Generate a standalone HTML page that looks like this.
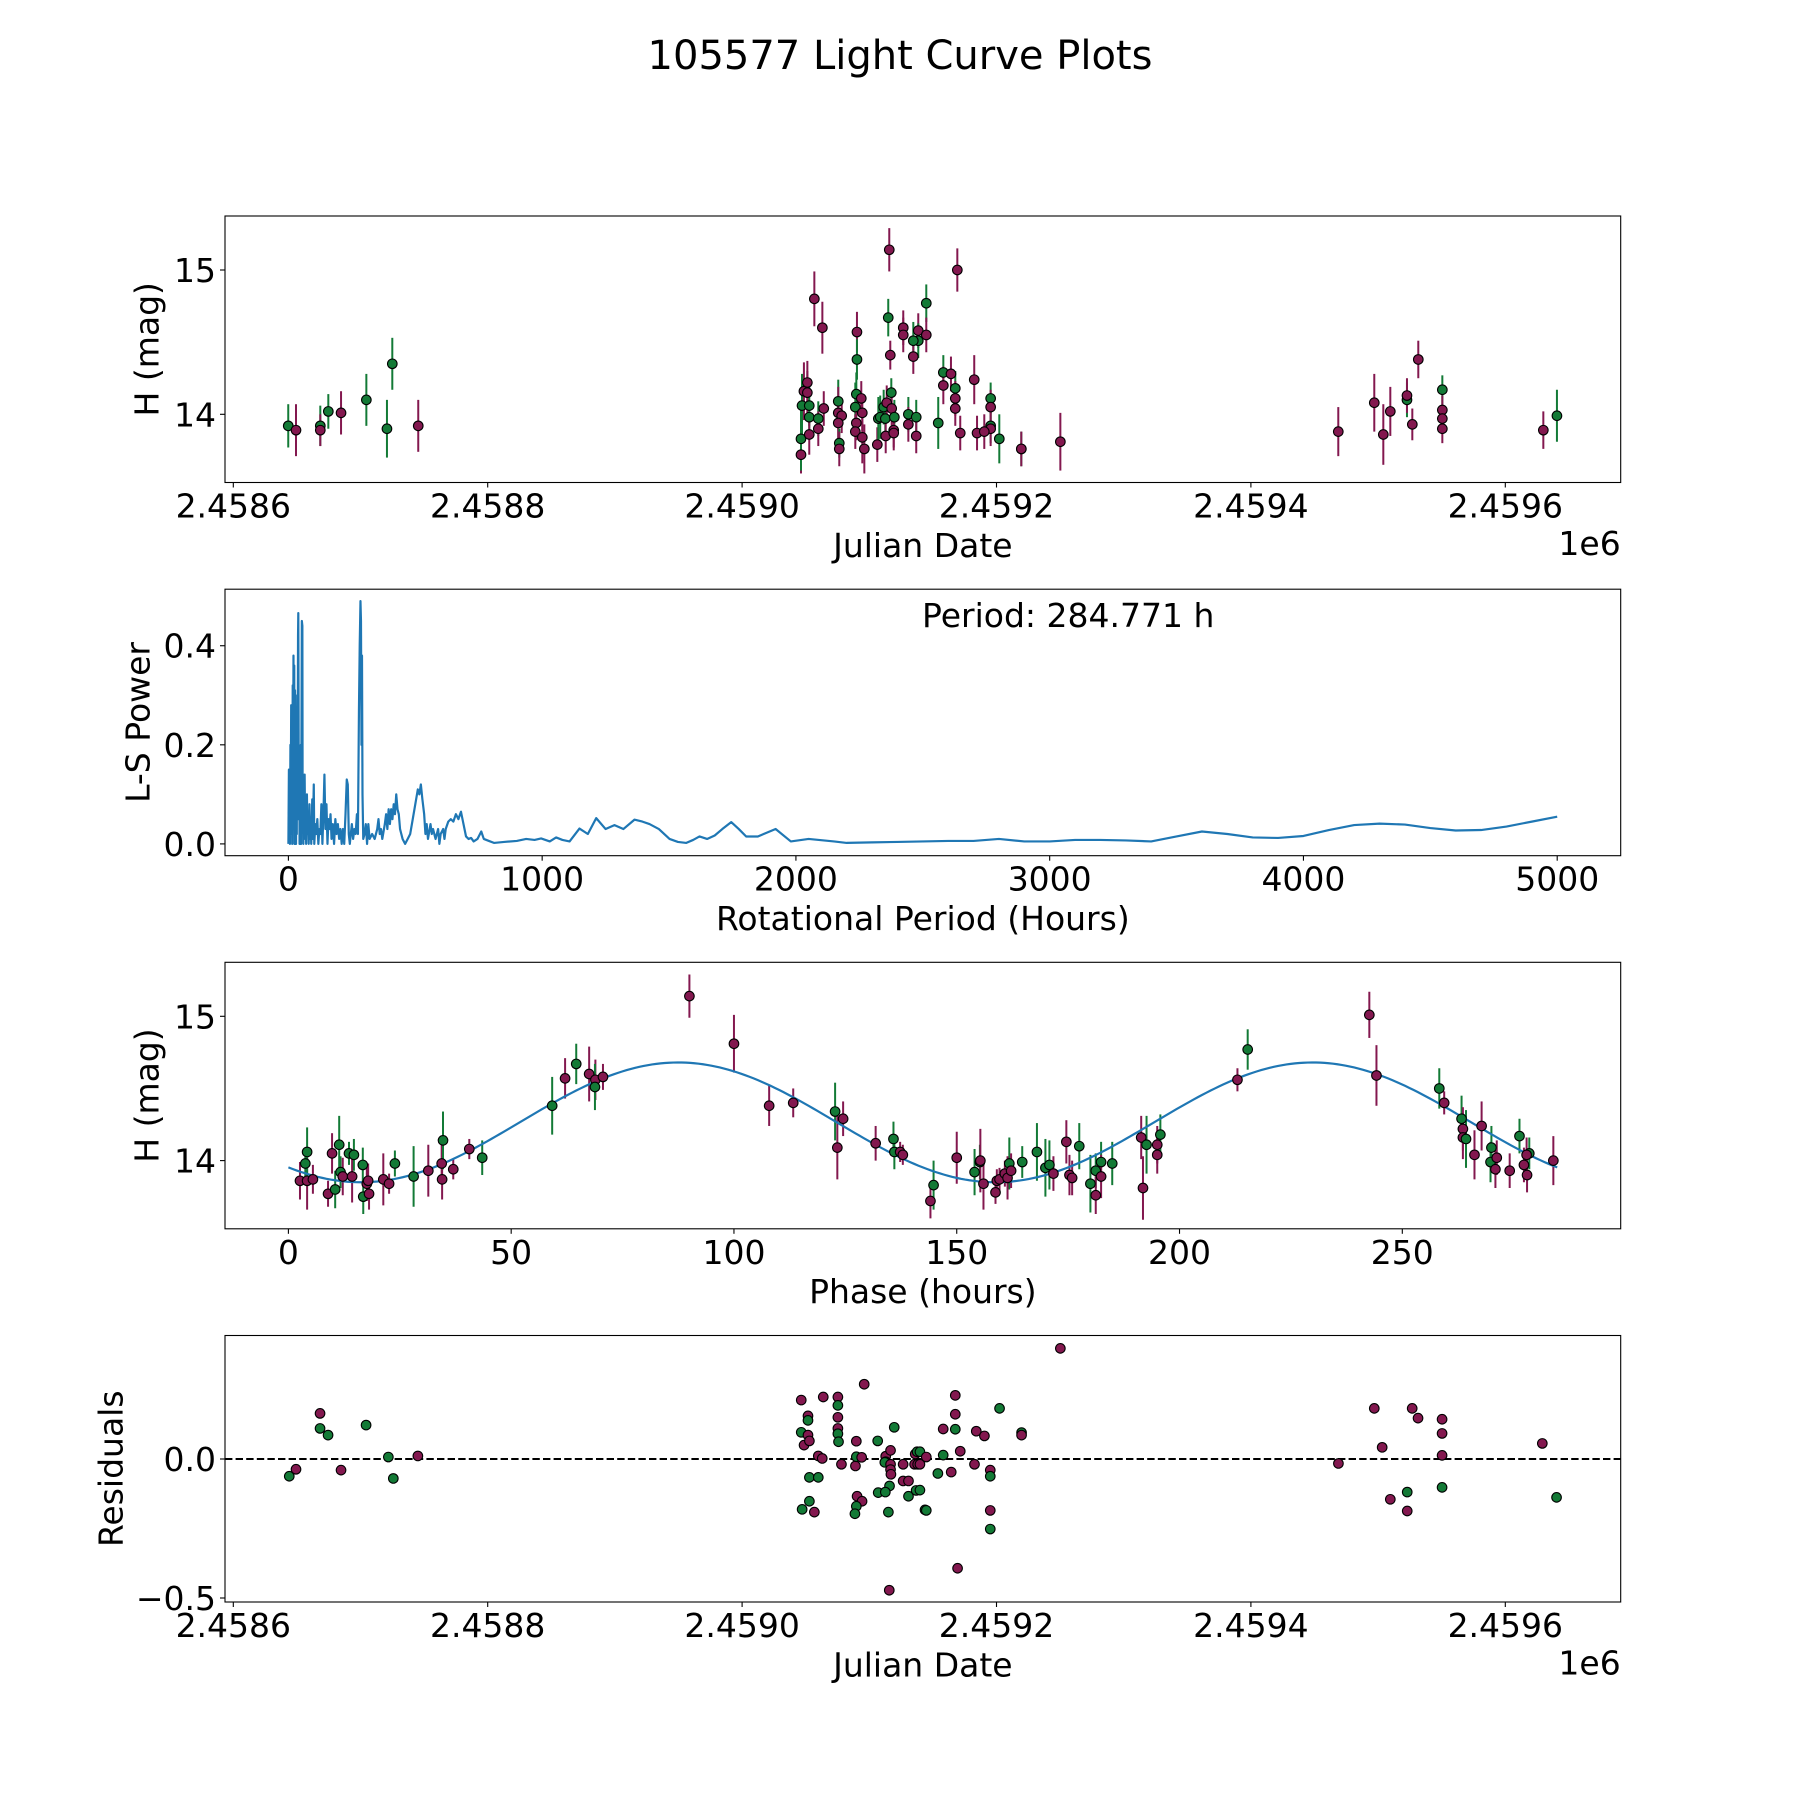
<!DOCTYPE html>
<html><head><meta charset="utf-8"><style>
html,body{margin:0;padding:0;background:#fff;}
svg{position:absolute;left:0;top:0;}
text{font-family:"DejaVu Sans","Liberation Sans",sans-serif;fill:#000;}
</style></head><body>
<svg id="fig" width="1800" height="1800" viewBox="0 0 1800 1800" xmlns="http://www.w3.org/2000/svg">
<rect x="0" y="0" width="1800" height="1800" fill="#fff"/>
<text x="900" y="69" font-size="40" text-anchor="middle">105577 Light Curve Plots</text>
</svg>
<script>
// ---------- Panel 1: light curve ----------
const lcDays = [43.2,49.3,68.4,68.4,74.7,84.7,104.6,120.8,125.0,145.4,
456.8,463.1,515.7,569.2,514.9,544.8,490.3,526.7,526.7,538.5,538.5,534.6,544.8,534.6,516.5,490.3,558.2,564.2,558.2,567.6,567.6,567.6,582.5,595.4,595.4,595.4,595.4,602.2,571.5,584.7,590.4,619.5,619.5,650.2,554.2,530.7,530.7,536.9,536.9,
446.3,446.3,447.1,448.6,451.3,451.3,452.8,452.8,452.8,459.9,459.9,464.2,475.6,475.6,478.3,475.6,476.4,476.4,489.8,493.7,489.0,494.5,489.8,489.0,494.5,496.1,506.3,507.1,508.6,512.6,511.3,513.7,517.3,517.6,519.7,512.9,519.2,519.2,
868.7,897.0,904.1,909.6,922.7,922.7,926.9,931.6,950.5,950.5,950.5,950.5,1029.9,1040.6];
const lcMag = [13.92,13.89,13.92,13.89,14.02,14.01,14.10,13.90,14.35,13.92,
14.80,14.60,15.14,15.00,14.67,14.77,14.57,14.60,14.55,14.58,14.51,14.51,14.55,14.40,14.41,14.38,14.29,14.28,14.20,14.18,14.11,14.04,14.24,14.11,14.05,13.92,13.90,13.83,13.87,13.87,13.88,13.76,13.76,13.81,13.94,14.00,13.93,13.98,13.85,
13.72,13.83,14.06,14.16,14.22,14.15,14.06,13.98,13.86,13.97,13.90,14.04,14.09,14.01,13.99,13.94,13.80,13.76,14.14,14.11,14.05,14.01,13.94,13.88,13.84,13.76,13.79,13.97,13.98,13.97,14.05,14.08,14.15,14.04,13.98,13.85,13.89,13.87,
13.88,14.08,13.86,14.02,14.10,14.13,13.93,14.38,14.17,14.03,13.97,13.90,13.89,13.99];
const lcErr = [0.15,0.18,0.14,0.11,0.12,0.15,0.18,0.20,0.18,0.18,
0.19,0.18,0.15,0.15,0.13,0.13,0.14,0.12,0.12,0.12,0.12,0.13,0.12,0.12,0.10,0.14,0.12,0.12,0.13,0.12,0.12,0.12,0.17,0.11,0.12,0.12,0.12,0.17,0.12,0.12,0.12,0.12,0.12,0.20,0.18,0.12,0.12,0.12,0.12,
0.13,0.22,0.22,0.20,0.15,0.15,0.14,0.12,0.14,0.12,0.12,0.12,0.15,0.18,0.12,0.12,0.10,0.12,0.15,0.12,0.17,0.13,0.12,0.12,0.18,0.17,0.12,0.15,0.15,0.12,0.12,0.12,0.10,0.12,0.12,0.12,0.12,0.12,
0.17,0.20,0.21,0.17,0.12,0.12,0.11,0.13,0.10,0.10,0.10,0.10,0.13,0.18];
const lcFilt = ["g","m","g","m","g","m","g","g","g","m",
"m","m","m","m","g","g","m","m","m","m","g","g","m","m","m","g","g","m","m","g","m","m","m","g","m","g","m","g","m","m","m","g","m","m","g","g","m","g","m",
"m","g","g","m","m","m","g","g","m","g","m","m","g","m","m","m","g","m","g","m","g","m","m","m","m","m","m","g","g","g","g","m","g","m","g","m","m","m",
"m","m","m","m","g","m","m","m","g","m","m","m","m","g"];
const jdTicks = [2458600,2458800,2459000,2459200,2459400,2459600];
const jdTickLabels = ["2.4586","2.4588","2.4590","2.4592","2.4594","2.4596"];
const magTicks = [14,15];
const magTickLabels = ["14","15"];

// ---------- Panel 2: periodogram ----------
const lsPeriod = [0,2,3,5,6,8,9,11,12,14,15,17,18,20,21,23,24,26,27,29,30,32,33,35,36,38,39,40,41,43,44,46,47,49,50,52,53,55,56,58,59,61,62,64,66,68,70,73,75,78,80,83,85,88,90,94,96,100,102,106,110,114,118,122,126,130,134,138,142,146,150,154,158,162,166,170,175,180,185,190,195,200,205,210,215,220,225,230,234,238,242,246,250,255,260,265,270,274,278,281,284,286,288,290,292,295,300,305,310,315,320,330,340,350,355,360,365,370,380,385,390,395,400,405,410,415,420,425,430,435,440,445,450,460,470,480,490,500,510,516,522,528,535,540,545,550,560,565,570,580,590,595,600,610,615,620,630,640,650,660,670,680,690,700,710,720,730,745,760,770,790,810,850,900,937,970,996,1030,1055,1080,1108,1147,1180,1213,1250,1285,1320,1364,1395,1423,1460,1502,1535,1568,1595,1620,1650,1680,1710,1745,1775,1804,1850,1920,1980,2050,2150,2200,2300,2400,2500,2600,2700,2800,2900,3000,3100,3200,3300,3400,3500,3600,3700,3800,3900,4000,4100,4200,4300,4400,4500,4600,4700,4800,4900,5000];
const lsPower = [0.0,0.15,0.01,0.12,0.0,0.2,0.02,0.28,0.05,0.25,0.0,0.32,0.05,0.38,0.1,0.36,0.0,0.31,0.05,0.2,0.0,0.15,0.02,0.3,0.05,0.42,0.466,0.3,0.05,0.15,0.0,0.1,0.02,0.2,0.0,0.3,0.45,0.44,0.1,0.14,0.0,0.08,0.01,0.14,0.02,0.08,0.0,0.1,0.02,0.06,0.0,0.08,0.01,0.05,0.0,0.09,0.01,0.12,0.0,0.04,0.02,0.05,0.0,0.03,0.02,0.08,0.0,0.06,0.14,0.03,0.08,0.0,0.05,0.03,0.06,0.01,0.04,0.0,0.05,0.02,0.04,0.01,0.03,0.0,0.03,0.0,0.06,0.13,0.12,0.02,0.0,0.02,0.04,0.01,0.03,0.02,0.06,0.02,0.27,0.4,0.49,0.45,0.2,0.38,0.1,0.01,0.02,0.04,0.0,0.04,0.01,0.02,0.01,0.03,0.05,0.02,0.03,0.01,0.04,0.06,0.03,0.07,0.04,0.07,0.05,0.08,0.06,0.1,0.07,0.06,0.03,0.02,0.01,0.0,0.01,0.02,0.05,0.08,0.11,0.1,0.12,0.09,0.06,0.02,0.04,0.01,0.04,0.02,0.03,0.01,0.03,0.0,0.02,0.03,0.01,0.03,0.045,0.05,0.045,0.06,0.05,0.065,0.04,0.015,0.01,0.012,0.005,0.01,0.025,0.01,0.006,0.002,0.004,0.006,0.01,0.008,0.011,0.005,0.013,0.008,0.005,0.031,0.02,0.052,0.03,0.038,0.03,0.049,0.045,0.04,0.03,0.01,0.004,0.002,0.008,0.015,0.01,0.017,0.03,0.044,0.03,0.015,0.015,0.03,0.005,0.01,0.005,0.002,0.003,0.004,0.005,0.006,0.006,0.01,0.005,0.005,0.008,0.008,0.007,0.005,0.015,0.025,0.02,0.013,0.012,0.016,0.028,0.038,0.041,0.039,0.032,0.027,0.028,0.035,0.045,0.055];
const periodTicks = [0,1000,2000,3000,4000,5000];
const periodTickLabels = ["0","1000","2000","3000","4000","5000"];
const powerTicks = [0.0,0.2,0.4];
const powerTickLabels = ["0.0","0.2","0.4"];
const bestPeriod = [284.771];

// ---------- Panel 3: phased ----------
const phase = [2.6,4.2,5.5,3.8,4.2,8.9,10.5,9.8,11.4,11.7,12.2,14.3,13.6,14.7,16.7,16.8,17.6,17.9,18.1,21.3,22.6,23.9,28.1,31.4,34.4,34.5,34.7,37.0,40.6,43.5,59.2,62.1,64.6,67.5,68.9,68.8,70.6,90.0,100.0,107.9,113.3,122.7,124.5,123.2,131.8,135.8,136.0,137.3,137.9,
144.1,144.8,150.0,154.0,155.2,155.3,156.0,158.7,159.0,159.6,160.8,161.8,161.4,162.2,164.7,168.0,169.9,170.8,171.7,174.6,175.3,175.9,177.5,180.0,181.2,181.2,182.4,182.4,184.9,191.4,191.8,192.6,195.0,195.0,195.7,213.0,215.3,242.6,244.2,258.3,259.4,263.3,263.6,263.6,264.3,267.8,266.2,270.0,269.8,271.2,270.9,274.1,276.3,278.5,277.9,277.3,278.0,283.9];
const phaseMag = [13.86,13.86,13.87,13.98,14.06,13.77,13.80,14.05,14.11,13.92,13.89,13.89,14.05,14.04,13.97,13.75,13.84,13.86,13.77,13.87,13.84,13.98,13.89,13.93,13.98,13.87,14.14,13.94,14.08,14.02,14.38,14.57,14.67,14.60,14.56,14.51,14.58,15.14,14.81,14.38,14.40,14.34,14.29,14.09,14.12,14.15,14.06,14.06,14.04,
13.72,13.83,14.02,13.92,13.99,14.00,13.84,13.78,13.86,13.87,13.91,13.98,13.88,13.93,13.99,14.06,13.95,13.97,13.91,14.13,13.90,13.88,14.10,13.84,13.93,13.76,13.99,13.89,13.98,14.16,13.81,14.11,14.11,14.04,14.18,14.56,14.77,15.01,14.59,14.50,14.40,14.29,14.22,14.16,14.15,14.24,14.04,14.09,13.99,14.02,13.94,13.93,14.17,14.05,14.04,13.97,13.90,14.00];
const phaseErr = [0.13,0.2,0.1,0.11,0.17,0.09,0.13,0.14,0.2,0.11,0.13,0.18,0.08,0.11,0.12,0.12,0.12,0.12,0.11,0.18,0.07,0.09,0.21,0.18,0.14,0.14,0.2,0.07,0.07,0.12,0.2,0.14,0.14,0.19,0.14,0.16,0.09,0.15,0.2,0.14,0.1,0.2,0.12,0.22,0.12,0.12,0.12,0.07,0.07,
0.12,0.17,0.18,0.16,0.12,0.22,0.18,0.08,0.08,0.08,0.09,0.18,0.15,0.12,0.11,0.2,0.2,0.17,0.12,0.15,0.14,0.12,0.16,0.2,0.12,0.13,0.14,0.15,0.15,0.15,0.22,0.2,0.13,0.13,0.14,0.08,0.14,0.16,0.21,0.14,0.08,0.16,0.15,0.15,0.2,0.17,0.17,0.15,0.14,0.12,0.13,0.12,0.12,0.11,0.12,0.12,0.12,0.17];
const phaseFilt = ["m","m","m","g","g","m","g","m","g","g","m","m","g","g","g","g","m","m","m","m","m","g","g","m","m","m","g","m","m","g","g","m","g","m","m","g","m","m","m","m","m","g","m","m","m","g","g","m","m",
"m","g","m","g","g","m","m","m","m","m","m","g","m","m","g","g","g","g","m","m","m","m","g","g","g","m","g","m","g","m","m","g","m","m","g","m","g","m","m","g","m","g","m","m","g","m","m","g","g","m","m","m","g","g","m","m","m","m"];
const phaseTicks = [0,50,100,150,200,250];
const phaseTickLabels = ["0","50","100","150","200","250"];
const fitMean = [14.265];
const fitAmp = [0.415];
const fitPhase0 = [51.9];

// ---------- Panel 4: residuals ----------
const resDays = [44.0,49.3,68.2,68.2,74.5,84.7,104.4,121.9,125.8,145.1,
446.5,446.5,448.7,451.8,451.8,451.8,452.9,452.9,452.9,447.2,456.8,459.9,459.9,463.0,463.8,475.3,475.3,475.3,475.3,475.3,475.8,478.1,489.1,489.8,489.8,494.0,490.4,494.3,489.8,488.7,496.0,506.6,512.9,512.9,512.2,516.7,516.7,516.7,517.0,515.9,507.0,512.6,515.0,515.7,519.6,526.6,526.6,530.8,530.8,536.8,536.1,537.6,535.6,538.0,543.8,
539.8,539.8,539.8,544.8,544.8,553.9,558.1,558.1,564.4,567.6,567.6,567.6,571.5,569.4,582.7,584.1,590.5,595.1,595.1,595.1,595.1,602.4,619.7,619.7,650.2,
868.8,897.0,903.2,909.6,922.9,922.9,926.8,931.4,950.3,950.3,950.3,950.3,1029.1,1040.3];
const resVal = [-0.062,-0.037,0.164,0.110,0.086,-0.040,0.122,0.007,-0.070,0.011,
0.212,0.096,0.050,0.155,0.139,0.086,0.065,-0.066,-0.152,-0.181,-0.191,-0.066,0.011,0.002,0.223,0.223,0.193,0.150,0.110,0.091,0.062,-0.019,-0.025,0.064,0.008,0.006,-0.134,-0.152,-0.170,-0.197,0.269,0.065,0.010,-0.010,-0.012,0.031,-0.019,-0.038,-0.055,-0.097,-0.121,-0.119,-0.191,-0.472,0.114,-0.019,-0.079,-0.079,-0.134,-0.113,0.018,0.026,-0.019,-0.019,-0.183,
0.026,-0.019,-0.112,0.007,-0.185,-0.052,0.108,0.014,-0.047,0.229,0.161,0.107,0.028,-0.393,-0.019,0.100,0.083,-0.040,-0.062,-0.185,-0.252,0.182,0.095,0.086,0.398,
-0.016,0.182,0.042,-0.145,-0.119,-0.187,0.182,0.147,0.143,0.092,0.013,-0.102,0.056,-0.138];
const resFilt = ["g","m","m","g","g","m","g","g","g","m",
"m","g","m","m","g","m","m","g","g","g","m","g","m","m","m","m","g","m","m","g","g","m","m","m","g","m","m","m","g","g","m","g","m","m","g","m","m","m","m","g","g","g","g","m","g","m","m","m","g","g","m","g","m","m","g",
"g","m","g","m","g","g","m","g","m","m","m","g","m","m","m","m","m","m","g","m","g","g","g","m","m",
"m","m","m","m","g","m","m","m","m","m","m","g","m","g"];
const resTicks = [0.0,-0.5];
const resTickLabels = ["0.0","\u22120.5"];

// ---------- geometry ----------
const NS = "http://www.w3.org/2000/svg";
const svg = document.getElementById("fig");
const AX_L = 225, AX_R = 1620.7, AX_H = 266.5;
const TOPS = [216, 589.2, 962.3, 1335.5];
const COL = {g:"#137a36", m:"#83184f"};
const FS = 33;
const MR = 4.8;
const xJD = d => 233.3 + d * 1.272;
const xJDfull = jd => xJD(jd - 2458600);
const y1 = m => 414.3 - (m - 14) * 144.3;
const x2 = p => 288.4 + p * 0.25376;
const y2 = v => 843.9 - v * 495.4;
const x3 = p => 288.4 + p * 4.4556;
const y3 = m => 1160.6 - (m - 14) * 144.3;
const y4 = r => 1459 - r * 278;

function mk(tag, attrs, parent){
  const e = document.createElementNS(NS, tag);
  for (const k in attrs) e.setAttribute(k, attrs[k]);
  (parent || svg).appendChild(e);
  return e;
}

function axesFrame(i, name){
  const g = mk("g", {});
  
  
  const r = mk("rect", {x:AX_L, y:TOPS[i], width:AX_R-AX_L, height:AX_H, fill:"none", stroke:"#000", "stroke-width":1.1}, g);
  
  
  return g;
}
function xTicks(i, vals, labels, fx, name){
  const bot = TOPS[i] + AX_H;
  const g = mk("g", {});
  
  
  vals.forEach((v, k) => {
    const x = fx(v);
    mk("line", {x1:x, x2:x, y1:bot, y2:bot+5, stroke:"#000", "stroke-width":1.1}, g);
    const t = mk("text", {x:x, y:bot+35, "font-size":FS, "text-anchor":"middle"}, g);
    
    
    t.textContent = labels[k];
  });
}
function yTicks(vals, labels, fy, name){
  const g = mk("g", {});
  
  
  vals.forEach((v, k) => {
    const y = fy(v);
    mk("line", {x1:AX_L-5, x2:AX_L, y1:y, y2:y, stroke:"#000", "stroke-width":1.1}, g);
    const t = mk("text", {x:AX_L-9, y:y+12, "font-size":FS, "text-anchor":"end"}, g);
    
    
    t.textContent = labels[k];
  });
}
function label(x, y, txt, name, rot){
  const t = mk("text", {x:x, y:y, "font-size":FS, "text-anchor":"middle"});
  if (rot) { t.setAttribute("transform", "rotate(-90 " + x + " " + y + ")"); t.setAttribute("dominant-baseline", "central"); }
  
  
  t.textContent = txt;
  return t;
}
function clip(i, id){
  const cp = mk("clipPath", {id:id});
  mk("rect", {x:AX_L, y:TOPS[i], width:AX_R-AX_L, height:AX_H}, cp);
}
const midX = (AX_L + AX_R) / 2;

// ---------- Panel 1 ----------
clip(0, "c1");
const p1 = mk("g", {"clip-path":"url(#c1)"});


lcDays.forEach((d, k) => {
  const x = xJD(d), c = COL[lcFilt[k]];
  const eb = mk("line", {x1:x, x2:x, y1:y1(lcMag[k]-lcErr[k]), y2:y1(lcMag[k]+lcErr[k]), stroke:c, "stroke-width":2}, p1);
  
  
});
lcDays.forEach((d, k) => {
  const pt = mk("circle", {cx:xJD(d), cy:y1(lcMag[k]), r:MR, fill:COL[lcFilt[k]], stroke:"#000", "stroke-width":1.1}, p1);
  
  
});
axesFrame(0, "light-curve-axes");
xTicks(0, jdTicks, jdTickLabels, xJDfull, "light-curve-x-ticks");
yTicks(magTicks, magTickLabels, y1, "light-curve-y-ticks");
label(midX, 557, "Julian Date", "light-curve-x-axis-title");
label(147, TOPS[0]+AX_H/2, "H (mag)", "light-curve-y-axis-title", true);
(function(){ const t = mk("text", {x:AX_R, y:555, "font-size":FS, "text-anchor":"end"});   t.textContent = "1e6"; })();

// ---------- Panel 2 ----------
clip(1, "c2");
const p2 = mk("g", {"clip-path":"url(#c2)"});


const lsPts = lsPeriod.map((p, k) => x2(p).toFixed(2) + "," + y2(lsPower[k]).toFixed(2)).join(" ");
const lsLine = mk("polyline", {points:lsPts, fill:"none", stroke:"#1f77b4", "stroke-width":2.2, "stroke-linejoin":"round"}, p2);


axesFrame(1, "periodogram-axes");
xTicks(1, periodTicks, periodTickLabels, x2, "periodogram-x-ticks");
yTicks(powerTicks, powerTickLabels, y2, "periodogram-y-ticks");
label(midX, 930, "Rotational Period (Hours)", "periodogram-x-axis-title");
label(138, TOPS[1]+AX_H/2, "L-S Power", "periodogram-y-axis-title", true);
(function(){ const t = mk("text", {x:922, y:627, "font-size":FS, "text-anchor":"start"});   t.textContent = "Period: " + bestPeriod[0].toFixed(3) + " h"; })();

// ---------- Panel 3 ----------
clip(2, "c3");
const p3 = mk("g", {"clip-path":"url(#c3)"});


phase.forEach((p, k) => {
  const x = x3(p), c = COL[phaseFilt[k]];
  const eb = mk("line", {x1:x, x2:x, y1:y3(phaseMag[k]-phaseErr[k]), y2:y3(phaseMag[k]+phaseErr[k]), stroke:c, "stroke-width":2}, p3);
  
  
});
const fitPts = [];
for (let s = 0; s <= 300; s++) {
  const p = bestPeriod[0] * s / 300;
  const m = fitMean[0] + fitAmp[0] * Math.sin(4 * Math.PI * (p - fitPhase0[0]) / bestPeriod[0]);
  fitPts.push(x3(p).toFixed(2) + "," + y3(m).toFixed(2));
}
const fitLine = mk("polyline", {points:fitPts.join(" "), fill:"none", stroke:"#1f77b4", "stroke-width":2.2}, p3);


phase.forEach((p, k) => {
  const pt = mk("circle", {cx:x3(p), cy:y3(phaseMag[k]), r:MR, fill:COL[phaseFilt[k]], stroke:"#000", "stroke-width":1.1}, p3);
  
  
});
axesFrame(2, "phased-axes");
xTicks(2, phaseTicks, phaseTickLabels, x3, "phased-x-ticks");
yTicks(magTicks, magTickLabels, y3, "phased-y-ticks");
label(midX, 1303, "Phase (hours)", "phased-x-axis-title");
label(147, TOPS[2]+AX_H/2, "H (mag)", "phased-y-axis-title", true);

// ---------- Panel 4 ----------
clip(3, "c4");
const p4 = mk("g", {"clip-path":"url(#c4)"});


const zl = mk("line", {x1:AX_L, x2:AX_R, y1:y4(0), y2:y4(0), stroke:"#000", "stroke-width":2, "stroke-dasharray":"7.4,3.2"}, p4);


resDays.forEach((d, k) => {
  const pt = mk("circle", {cx:xJD(d), cy:y4(resVal[k]), r:MR, fill:COL[resFilt[k]], stroke:"#000", "stroke-width":1.1}, p4);
  
  
});
axesFrame(3, "residual-axes");
xTicks(3, jdTicks, jdTickLabels, xJDfull, "residual-x-ticks");
yTicks(resTicks, resTickLabels, y4, "residual-y-ticks");
label(midX, 1676.5, "Julian Date", "residual-x-axis-title");
label(111, TOPS[3]+AX_H/2, "Residuals", "residual-y-axis-title", true);
(function(){ const t = mk("text", {x:AX_R, y:1674.5, "font-size":FS, "text-anchor":"end"});   t.textContent = "1e6"; })();
</script>
</body></html>
